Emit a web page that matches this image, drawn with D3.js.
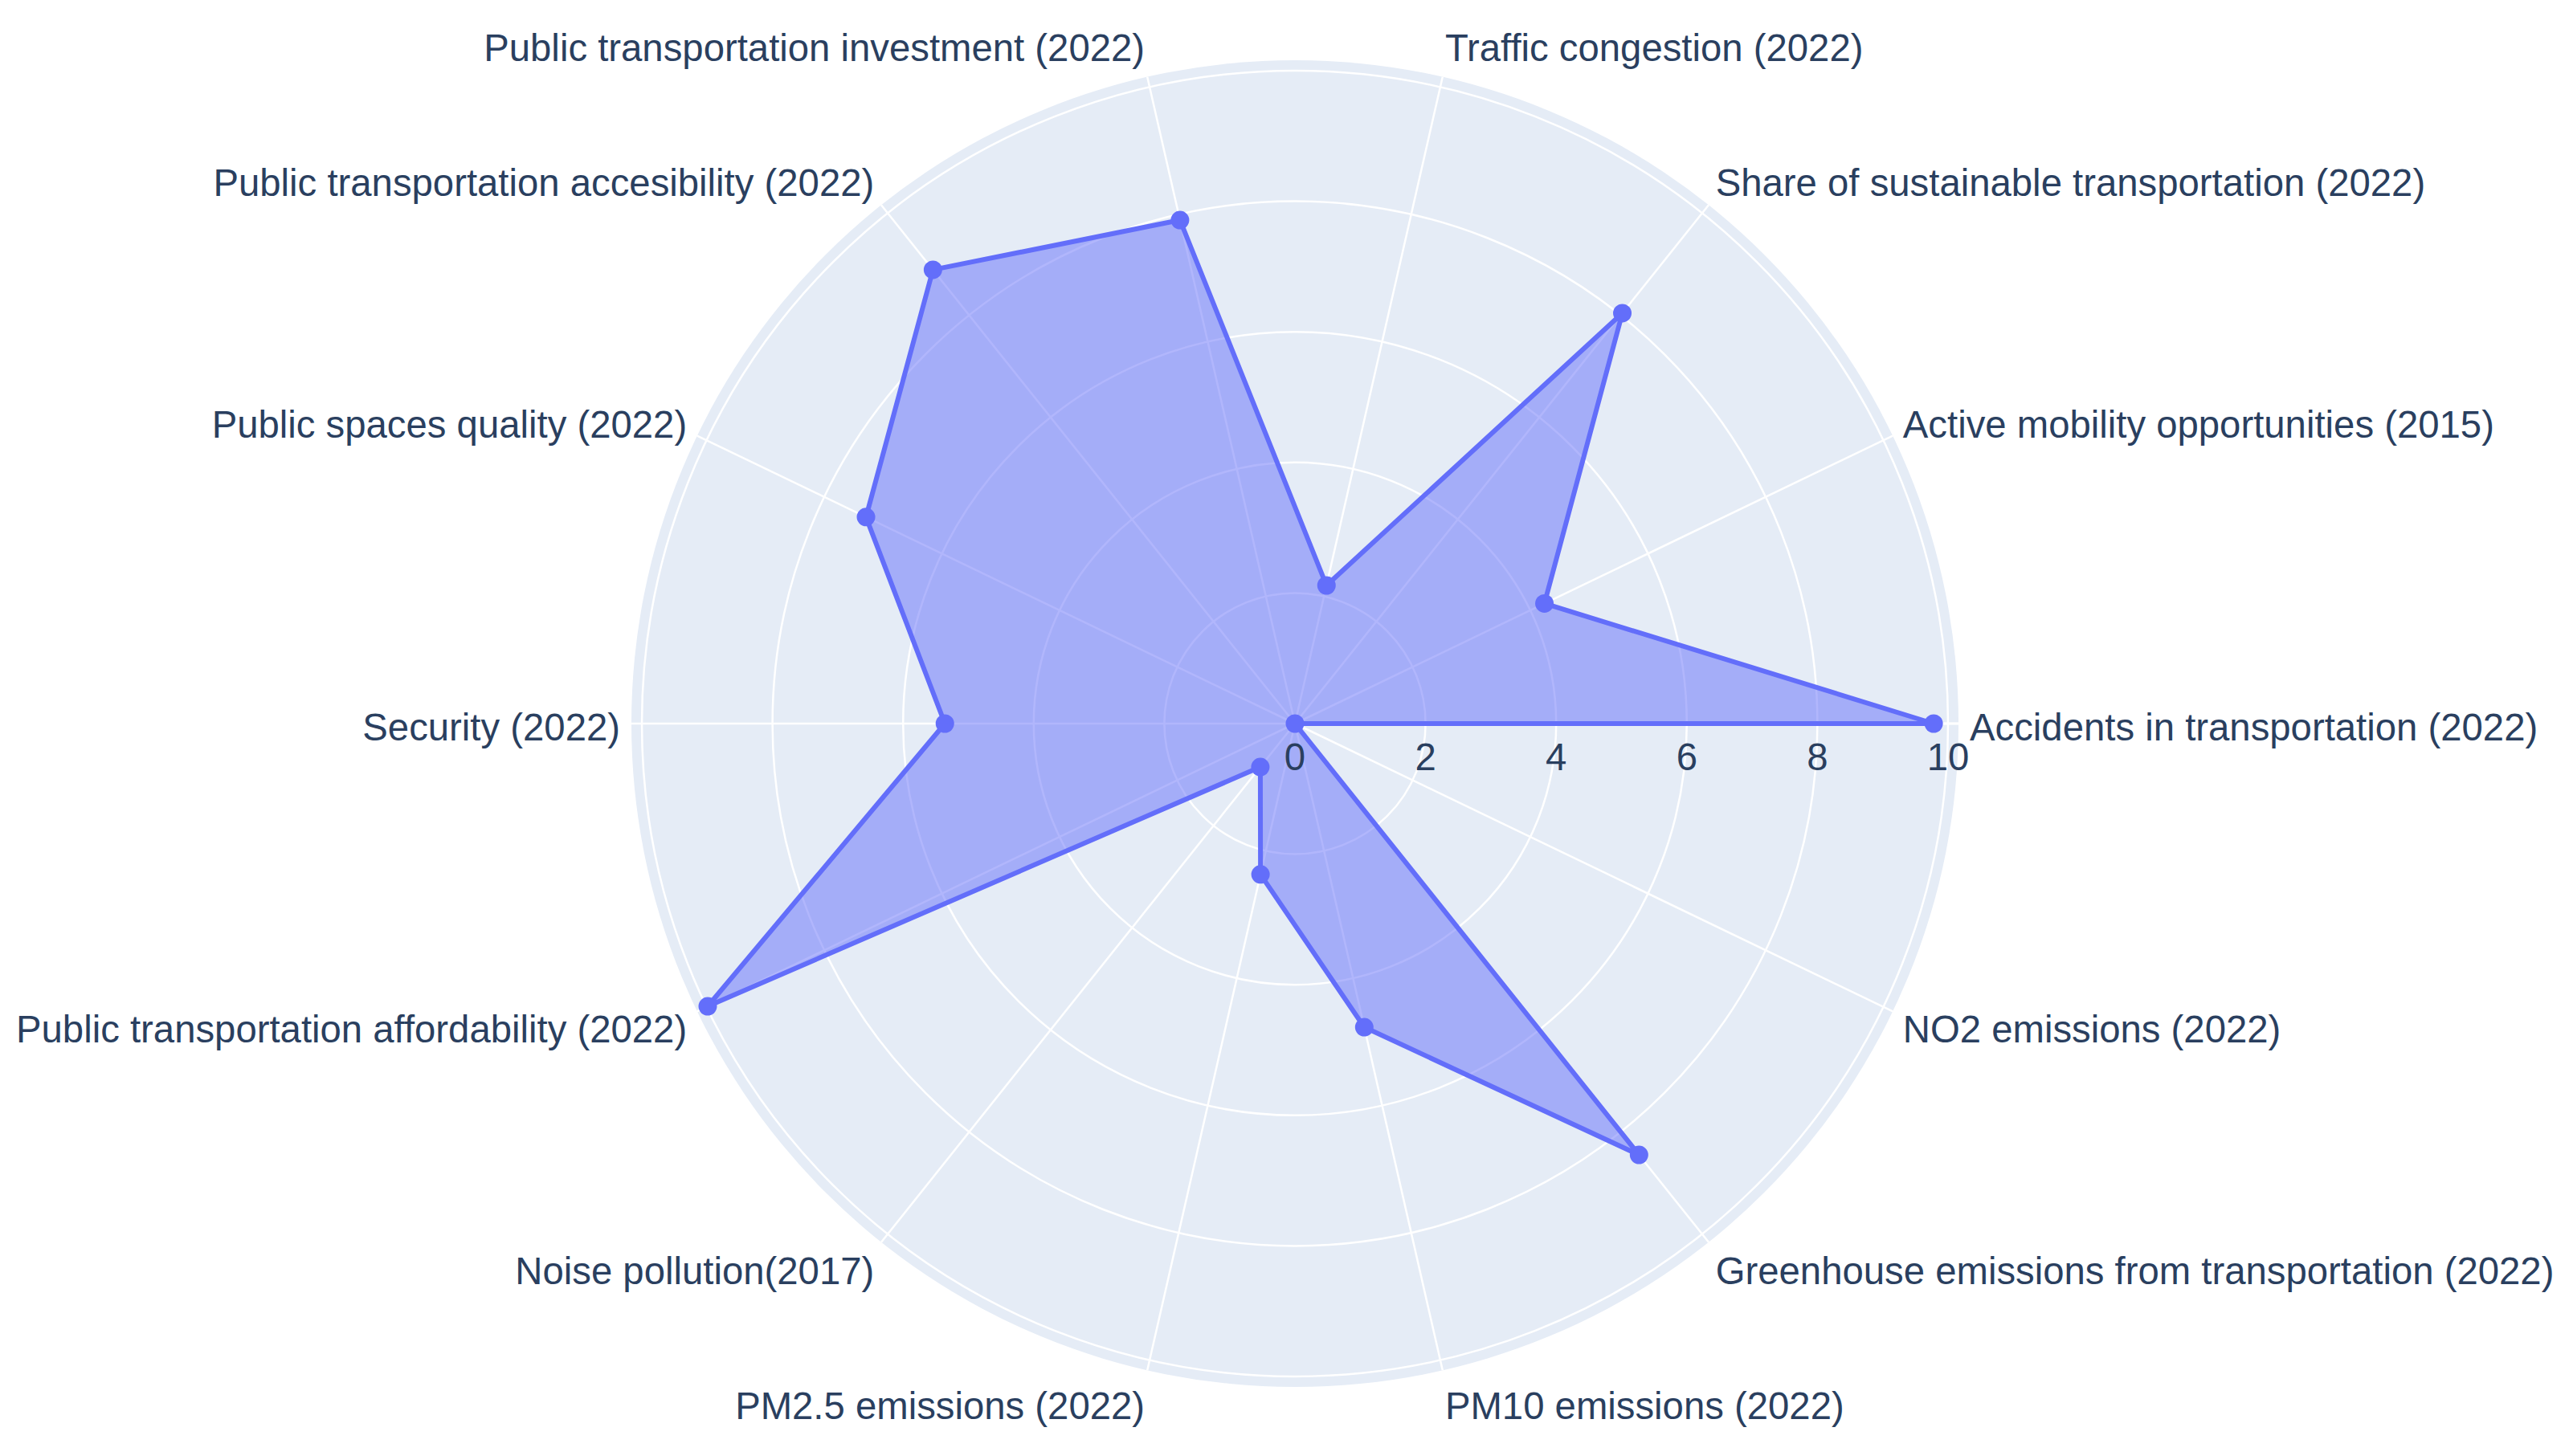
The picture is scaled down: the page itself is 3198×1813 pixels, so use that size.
<!DOCTYPE html>
<html>
<head>
<meta charset="utf-8">
<script src="https://cdn.jsdelivr.net/npm/d3@7"></script>
<style>
  body { margin: 0; background: #fff; }
  text { font-family: "Liberation Sans", Arial, sans-serif; fill: #2a3f5f; }
</style>
</head>
<body>
<div id="vis"></div>
<script>
// categories go counterclockwise, starting at 3 o'clock
const categories = [
    'Accidents in transportation (2022)',
    'Active mobility opportunities (2015)',
    'Share of sustainable transportation (2022)',
    'Traffic congestion (2022)',
    'Public transportation investment (2022)',
    'Public transportation accesibility (2022)',
    'Public spaces quality (2022)',
    'Security (2022)',
    'Public transportation affordability (2022)',
    'Noise pollution(2017)',
    'PM2.5 emissions (2022)',
    'PM10 emissions (2022)',
    'Greenhouse emissions from transportation (2022)',
    'NO2 emissions (2022)'
];
const values = [9.78, 4.24, 8.04, 2.17, 7.91, 8.89, 7.29, 5.36, 9.98, 0.85, 2.37, 4.77, 8.45, 0];
const radialTicks = [0, 2, 4, 6, 8, 10];

const width = 3198, height = 1813;
const cx = 1612, cy = 901;     // centre of the polar area
const outerR = 826;            // radius of the background disc
const rMax = 10.16;            // radial range shown
const fontSize = 47.3;

const svg = d3.select('#vis')
    .append('svg')
    .attr('width', width)
    .attr('height', height);

const g = svg.append('g')
    .attr('transform', `translate(${cx},${cy})`);

const rScale = d3.scaleLinear().domain([0, rMax]).range([0, outerR]);
// index -> maths angle (radians, counterclockwise from east)
const aScale = d3.scaleLinear().domain([0, categories.length]).range([0, 2 * Math.PI]);

// background disc
g.append('circle')
    .attr('r', outerR)
    .attr('fill', '#e5ecf6');

// circular grid
g.append('g')
    .selectAll('circle')
    .data(radialTicks.filter(d => d > 0))
    .enter()
    .append('circle')
    .attr('r', d => rScale(d))
    .attr('fill', 'none')
    .attr('stroke', '#fff')
    .attr('stroke-width', 2.5);

// spokes
g.append('g')
    .selectAll('line')
    .data(categories)
    .enter()
    .append('line')
    .attr('x1', 0)
    .attr('y1', 0)
    .attr('x2', (d, i) => outerR * Math.cos(aScale(i)))
    .attr('y2', (d, i) => -outerR * Math.sin(aScale(i)))
    .attr('stroke', '#fff')
    .attr('stroke-width', 2.5);

// radial axis line (along 0 degrees)
g.append('line')
    .attr('x1', 0).attr('y1', 0)
    .attr('x2', rScale(rMax)).attr('y2', 0)
    .attr('stroke', '#fff')
    .attr('stroke-width', 3);

// filled trace
const radial = d3.lineRadial()
    .angle((d, i) => Math.PI / 2 - aScale(i))
    .radius(d => rScale(d))
    .curve(d3.curveLinearClosed);

g.append('path')
    .datum(values)
    .attr('d', radial)
    .attr('fill', '#636efa')
    .attr('fill-opacity', 0.5)
    .attr('stroke', '#636efa')
    .attr('stroke-width', 6)
    .attr('stroke-linejoin', 'round');

g.append('g')
    .selectAll('circle')
    .data(values)
    .enter()
    .append('circle')
    .attr('cx', (d, i) => rScale(d) * Math.cos(aScale(i)))
    .attr('cy', (d, i) => -rScale(d) * Math.sin(aScale(i)))
    .attr('r', 11.5)
    .attr('fill', '#636efa');

// radial tick labels below the 0-degree axis
g.append('g')
    .selectAll('text')
    .data(radialTicks)
    .enter()
    .append('text')
    .attr('x', d => rScale(d))
    .attr('y', 41)
    .attr('text-anchor', 'middle')
    .attr('dominant-baseline', 'central')
    .style('font-size', fontSize + 'px')
    .text(d => d);

// angular labels around the disc
const pad = 14;
g.append('g')
    .selectAll('text')
    .data(categories)
    .enter()
    .append('text')
    .attr('x', (d, i) => (outerR + pad) * Math.cos(aScale(i)))
    .attr('y', (d, i) => -(outerR + pad) * Math.sin(aScale(i)) - Math.sin(aScale(i)) * 27 + 4)
    .attr('text-anchor', (d, i) => {
        const c = Math.cos(aScale(i));
        return c > 0.01 ? 'start' : (c < -0.01 ? 'end' : 'middle');
    })
    .attr('dominant-baseline', 'central')
    .style('font-size', fontSize + 'px')
    .text(d => d);
</script>
</body>
</html>
